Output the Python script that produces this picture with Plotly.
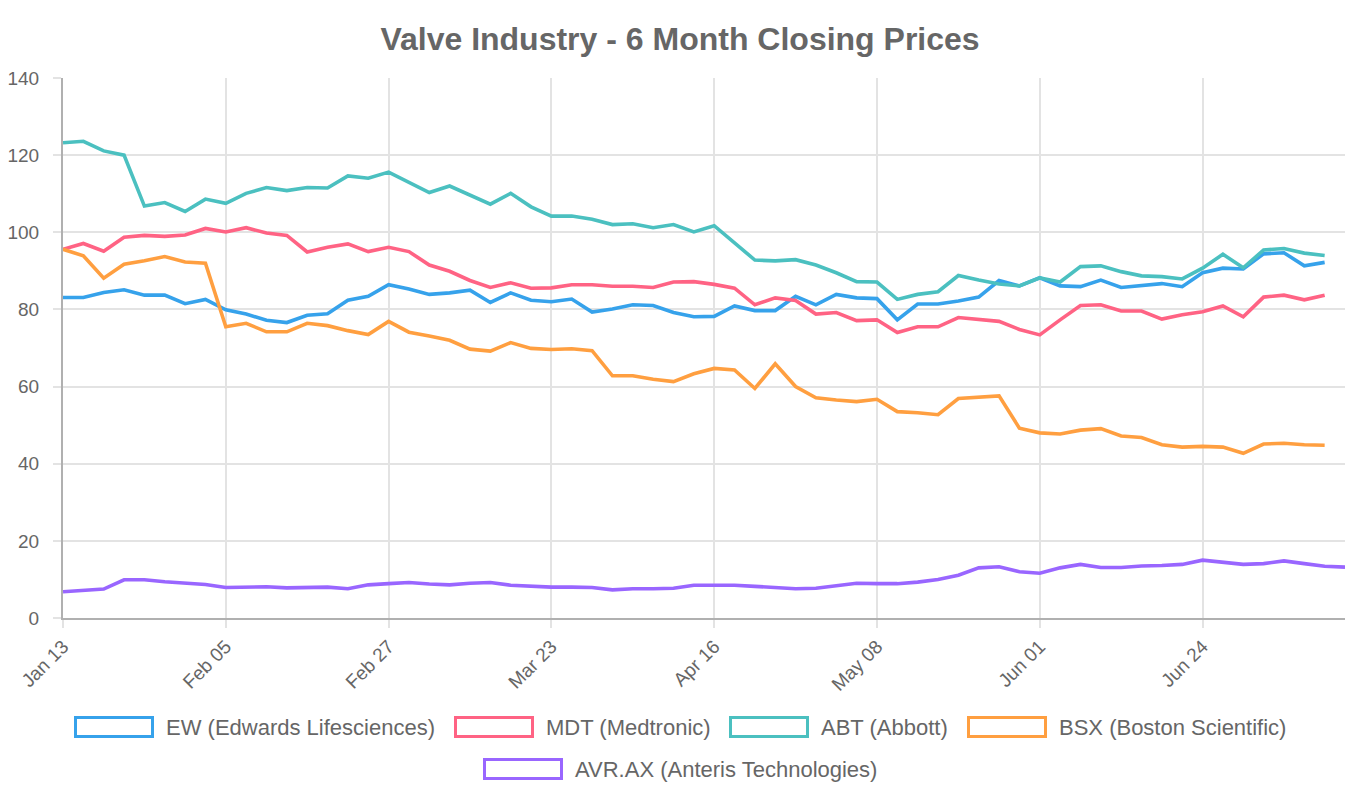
import plotly.graph_objects as go

# ---------------- data ----------------
dates = [
    "Jan 13", "Jan 16", "Jan 19", "Jan 22", "Jan 25", "Jan 28", "Jan 30", "Feb 02",
    "Feb 05", "Feb 08", "Feb 11", "Feb 13", "Feb 16", "Feb 19", "Feb 21", "Feb 24",
    "Feb 27", "Mar 02", "Mar 05", "Mar 08", "Mar 11", "Mar 14", "Mar 17", "Mar 20",
    "Mar 23", "Mar 26", "Mar 29", "Apr 01", "Apr 04", "Apr 07", "Apr 10", "Apr 13",
    "Apr 16", "Apr 19", "Apr 22", "Apr 24", "Apr 27", "Apr 30", "May 03", "May 05",
    "May 08", "May 11", "May 14", "May 17", "May 20", "May 23", "May 26", "May 29",
    "Jun 01", "Jun 04", "Jun 07", "Jun 09", "Jun 12", "Jun 15", "Jun 18", "Jun 21",
    "Jun 24", "Jun 27", "Jun 30", "Jul 03", "Jul 06", "Jul 09", "Jul 12", "Jul 14",
]
tick_labels = ["Jan 13", "Feb 05", "Feb 27", "Mar 23", "Apr 16", "May 08", "Jun 01", "Jun 24"]

ew = [83.1, 83.1, 84.4, 85.1, 83.7, 83.7, 81.5, 82.6, 79.9, 78.8, 77.2, 76.6, 78.5, 78.9, 82.4, 83.4,
      86.4, 85.3, 83.9, 84.3, 85.0, 81.8, 84.3, 82.4, 82.0, 82.7, 79.3, 80.1, 81.2, 81.0, 79.2, 78.1,
      78.2, 80.9, 79.7, 79.7, 83.4, 81.2, 83.9, 83.0, 82.8, 77.3, 81.4, 81.4, 82.2, 83.2, 87.5, 86.1,
      88.2, 86.1, 85.9, 87.6, 85.7, 86.3, 86.7, 85.9, 89.5, 90.7, 90.5, 94.4, 94.7, 91.3, 92.2]
mdt = [95.6, 97.1, 95.1, 98.7, 99.2, 98.95, 99.3, 101.0, 100.1, 101.2, 99.8, 99.2, 94.9, 96.1, 97.0, 95.0,
       96.1, 95.0, 91.5, 89.9, 87.5, 85.7, 86.9, 85.5, 85.6, 86.4, 86.4, 86.0, 86.0, 85.7, 87.1, 87.2,
       86.5, 85.5, 81.2, 83.0, 82.3, 78.8, 79.2, 77.1, 77.3, 74.0, 75.5, 75.5, 77.9, 77.5, 76.9, 74.8,
       73.4, 77.3, 81.0, 81.2, 79.6, 79.6, 77.5, 78.6, 79.4, 80.9, 78.1, 83.2, 83.7, 82.5, 83.7]
abt = [123.2, 123.6, 121.1, 120.0, 106.8, 107.7, 105.4, 108.6, 107.5, 110.1, 111.6, 110.8, 111.6, 111.5, 114.6, 114.0,
       115.6, 112.9, 110.3, 112.0, 109.6, 107.3, 110.1, 106.6, 104.2, 104.2, 103.4, 102.0, 102.2, 101.2, 102.0, 100.1,
       101.7, 97.1, 92.8, 92.6, 92.9, 91.5, 89.5, 87.2, 87.1, 82.6, 83.9, 84.6, 88.8, 87.6, 86.6, 86.1,
       88.2, 87.1, 91.1, 91.3, 89.8, 88.7, 88.5, 87.9, 90.7, 94.3, 90.8, 95.4, 95.8, 94.6, 94.0]
bsx = [95.6, 93.9, 88.1, 91.7, 92.6, 93.7, 92.3, 92.0, 75.5, 76.4, 74.2, 74.2, 76.4, 75.8, 74.5, 73.5,
       76.9, 74.1, 73.1, 72.0, 69.7, 69.2, 71.4, 69.9, 69.6, 69.8, 69.3, 62.8, 62.8, 61.9, 61.3, 63.3,
       64.7, 64.3, 59.5, 65.9, 60.0, 57.1, 56.5, 56.1, 56.7, 53.5, 53.2, 52.7, 56.9, 57.2, 57.6, 49.2,
       48.0, 47.7, 48.7, 49.1, 47.2, 46.8, 44.9, 44.3, 44.5, 44.3, 42.7, 45.1, 45.3, 44.9, 44.8]
avr = [6.8, 7.2, 7.5, 9.9, 9.9, 9.4, 9.0, 8.7, 7.9, 8.0, 8.1, 7.8, 8.0, 8.0, 7.6, 8.6,
       8.9, 9.2, 8.8, 8.6, 9.0, 9.2, 8.5, 8.2, 8.0, 8.0, 7.9, 7.3, 7.6, 7.6, 7.7, 8.5,
       8.5, 8.5, 8.2, 7.8, 7.6, 7.7, 8.4, 9.0, 8.9, 8.9, 9.3, 10.0, 11.1, 13.0, 13.3, 12.0,
       11.6, 13.0, 13.9, 13.1, 13.1, 13.5, 13.6, 13.9, 15.0, 14.4, 13.9, 14.1, 14.8, 14.1, 13.4, 13.2]

series_names = ["EW (Edwards Lifesciences)", "MDT (Medtronic)", "ABT (Abbott)",
                "BSX (Boston Scientific)", "AVR.AX (Anteris Technologies)"]
series_values = [ew, mdt, abt, bsx, avr]

# ---------------- styles ----------------
colors = ["#36A2EB", "#FF6384", "#4BC0C0", "#FF9F40", "#9966FF"]
FONT = "Liberation Sans, Arial, Helvetica, sans-serif"
TXT = "#666666"
W, H = 1360, 800
L, R, T, B = 63, 15, 78, 182
PW, PH = W - L - R, H - T - B

fig = go.Figure()
for name, vals, col in zip(series_names, series_values, colors):
    fig.add_trace(go.Scatter(
        x=dates[:len(vals)], y=vals, mode="lines", name=name,
        line=dict(color=col, width=3.6), showlegend=False,
        hovertemplate="%{x}: %{y}<extra>" + name + "</extra>",
    ))

# custom Chart.js-like legend (boxes + text)
legend_pos = [(74, 727), (454, 727), (729, 727), (967, 727), (483, 769)]
box_w, box_h = 80, 22

def px(x):
    return (x - L) / PW

def py(y):
    return (H - B - y) / PH

shapes = []
annotations = []
for (bx, cy), name, col in zip(legend_pos, series_names, colors):
    shapes.append(dict(type="rect", xref="paper", yref="paper",
                       x0=px(bx + 1.5), x1=px(bx + box_w - 1.5),
                       y0=py(cy + box_h / 2 - 1.5), y1=py(cy - box_h / 2 + 1.5),
                       line=dict(color=col, width=3), fillcolor="rgba(0,0,0,0)"))
    annotations.append(dict(xref="paper", yref="paper", x=px(bx + box_w + 10), y=py(cy),
                            xanchor="left", yanchor="middle", showarrow=False,
                            text=name, font=dict(family=FONT, size=22, color=TXT)))

fig.update_layout(
    width=W, height=H,
    margin=dict(l=L, r=R, t=T, b=B, pad=0),
    paper_bgcolor="white", plot_bgcolor="white",
    title=dict(text="<b>Valve Industry - 6 Month Closing Prices</b>",
               x=0.5, xanchor="center", y=1 - 39 / H, yanchor="middle",
               font=dict(family=FONT, size=32, color=TXT)),
    font=dict(family=FONT, color=TXT),
    shapes=shapes, annotations=annotations,
    xaxis=dict(type="category", categoryorder="array", categoryarray=dates,
               range=[0, len(dates) - 1], automargin=False,
               tickvals=tick_labels, ticktext=tick_labels, tickangle=-45,
               tickfont=dict(family=FONT, size=19, color=TXT),
               showgrid=True, gridcolor="#e3e3e3", gridwidth=1.5,
               ticks="outside", ticklen=8, tickcolor="#e3e3e3", tickwidth=1.5,
               showline=True, linecolor="#b0b0b0", linewidth=2,
               zeroline=False, fixedrange=True),
    yaxis=dict(range=[0, 140], dtick=20, tick0=0, automargin=False,
               tickfont=dict(family=FONT, size=19, color=TXT),
               showgrid=True, gridcolor="#e3e3e3", gridwidth=1.5,
               ticks="outside", ticklen=8, tickcolor="#e3e3e3", tickwidth=1.5,
               ticklabelstandoff=10,
               showline=True, linecolor="#b0b0b0", linewidth=2,
               zeroline=False, fixedrange=True),
)

fig.write_html("out.html")
